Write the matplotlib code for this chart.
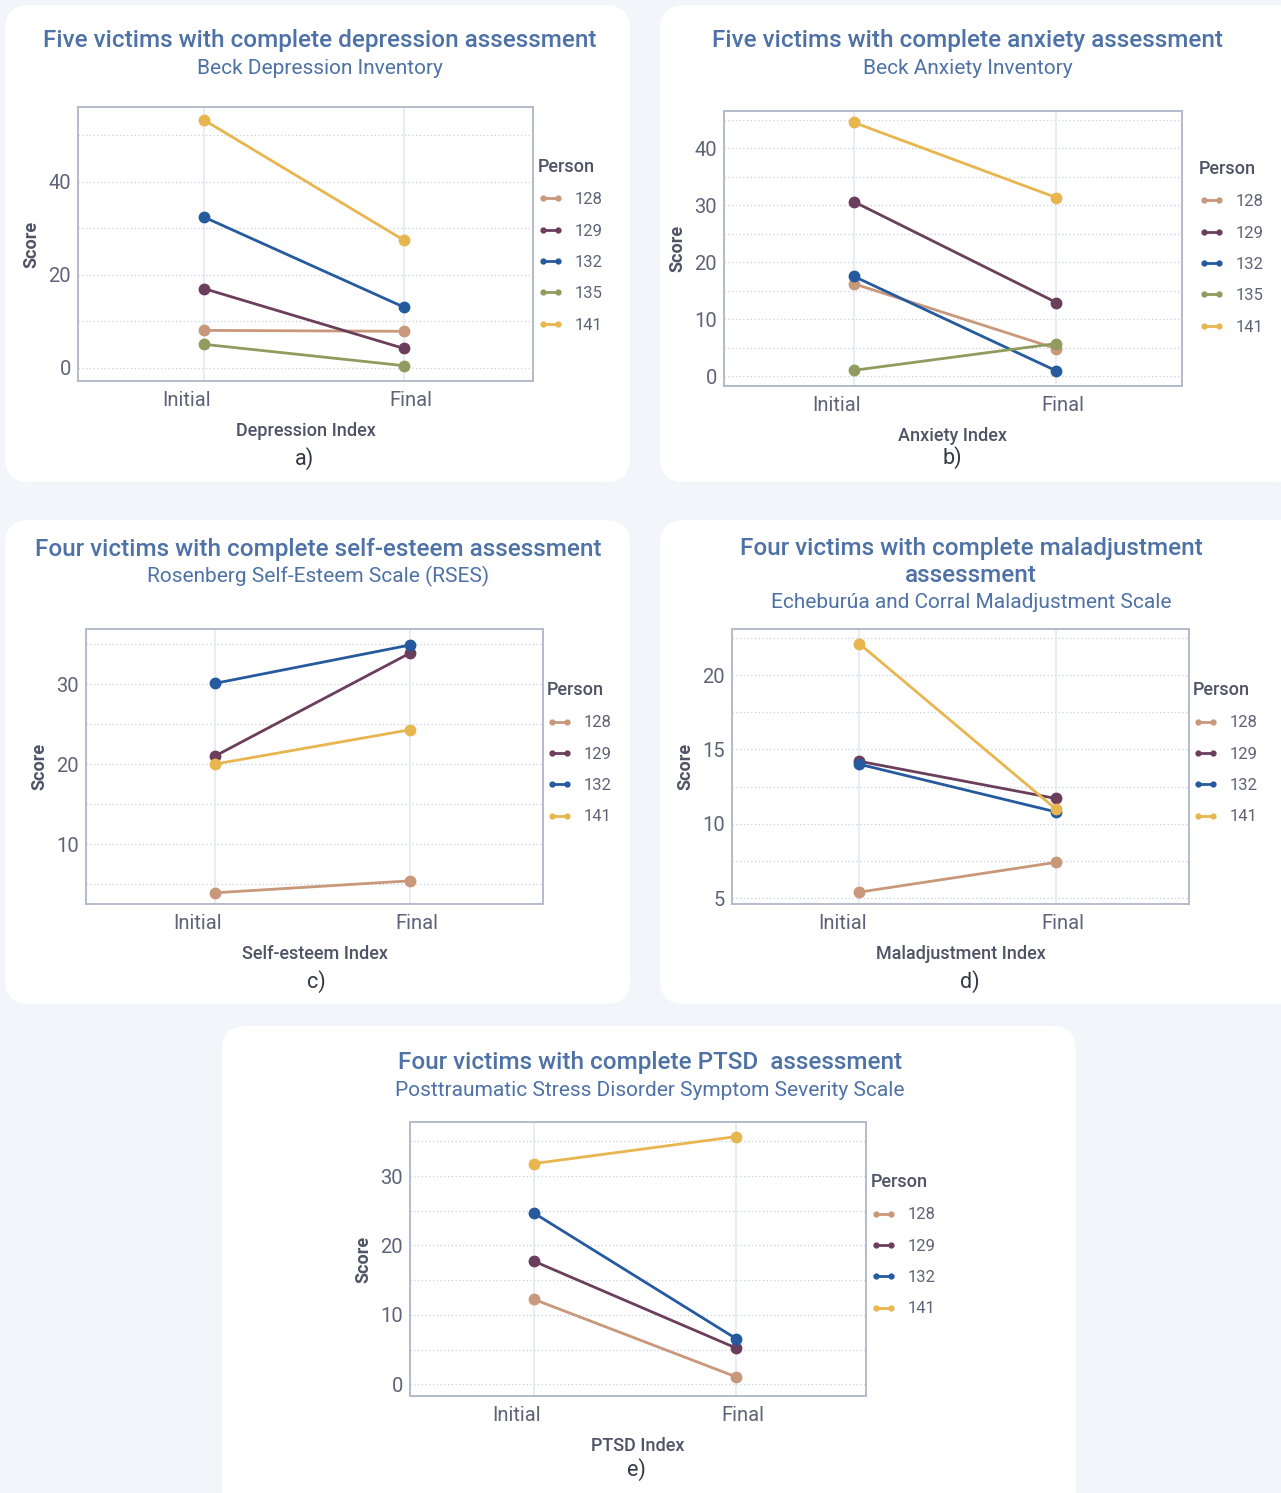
import numpy as np
import matplotlib
matplotlib.use("Agg")
import matplotlib.pyplot as plt
import matplotlib.transforms as mtransforms
from matplotlib.patches import FancyBboxPatch
from matplotlib.lines import Line2D

W, H = 1281, 1493

stages = ["Initial", "Final"]
persons5 = ["128", "129", "132", "135", "141"]
persons4 = ["128", "129", "132", "141"]
person_colors = {"128": "#c9977a", "129": "#6b3e5c", "132": "#255a9e",
                 "135": "#909b5e", "141": "#e8b64f"}

# depression (Beck Depression Inventory)
dep_initial = [8, 17, 32.4, 5, 53.3]
dep_final = [7.8, 4.1, 13, 0.4, 27.4]
# anxiety (Beck Anxiety Inventory)
anx_initial = [16.2, 30.6, 17.5, 1, 44.5]
anx_final = [4.8, 12.9, 0.9, 5.7, 31.3]
# self-esteem (RSES)
est_initial = [3.9, 21, 30.1, 20]
est_final = [5.4, 33.9, 34.9, 24.3]
# maladjustment
mal_initial = [5.4, 14.2, 14.0, 22.1]
mal_final = [7.4, 11.7, 10.8, 11.0]
# PTSD
ptsd_initial = [12.25, 17.75, 24.7, 31.8]
ptsd_final = [1.05, 5.2, 6.55, 35.7]

TITLE_C = "#4e72a6"
GREY = "#4f5366"
TICK_C = "#5f6377"
FONT = ["Roboto", "DejaVu Sans"]
plt.rcParams["font.family"] = FONT

fig = plt.figure(figsize=(W / 100, H / 100), dpi=100)
fig.patch.set_facecolor("#f2f5f9")

bg = fig.add_axes([0, 0, 1, 1])
bg.set_xlim(0, W); bg.set_ylim(H, 0); bg.axis("off")
cards = [(5, 5, 630, 482), (660, 5, 1300, 482), (5, 520, 630, 1004),
         (660, 520, 1300, 1004), (222, 1026, 1076, 1520)]
for x0, y0, x1, y1 in cards:
    bg.add_patch(FancyBboxPatch((x0, y0), x1 - x0, y1 - y0,
                                boxstyle="round,pad=0,rounding_size=24",
                                fc="white", ec="none"))


def fx(x):
    return x / W


def fy(y):
    return 1 - y / H


def panel(box, persons, initial, final, ylim, ticks, grid, xlim,
          title, subtitle, xlabel, letter, tpos, legpos, letpos):
    x0, y0, x1, y1 = box
    ax = fig.add_axes([fx(x0), fy(y1), fx(x1 - x0), (y1 - y0) / H])
    ax.set_facecolor("white")
    for g in grid:
        ax.axhline(g, color="#c9ceda", lw=0.9, ls=(0, (1, 2)), zorder=1)
    for i in range(len(stages)):
        ax.axvline(i, color="#e4e7f2", lw=1.1, zorder=1)
    handles = []
    for p, a, b in zip(persons, initial, final):
        c = person_colors[p]
        ax.plot([0, 1], [a, b], color=c, lw=2.0, marker="o", ms=7.5, zorder=3)
        handles.append(Line2D([0], [0], color=c, lw=2.0, marker="o", ms=3.5))
    ax.set_xlim(*xlim)
    ax.set_ylim(*ylim)
    ax.set_xticks(range(len(stages)), stages)
    ax.set_yticks(ticks)
    ax.tick_params(length=0, labelsize=14.5, colors=TICK_C)
    ax.tick_params(axis="y", pad=5)
    ax.tick_params(axis="x", pad=7)
    shifts = [-17, 7]
    for lab, dx in zip(ax.get_xticklabels(), shifts):
        lab.set_transform(lab.get_transform() +
                          mtransforms.ScaledTranslation(dx / 100, 0, fig.dpi_scale_trans))
    for s in ax.spines.values():
        s.set_color("#b3bbcb"); s.set_linewidth(1.4)
    ax.set_ylabel("Score", fontsize=13, fontweight="bold", color=GREY, labelpad=6)
    ax.set_xlabel(xlabel, fontsize=13, fontweight="medium", color=GREY, labelpad=9)
    leg = ax.legend(handles, persons, title="Person", loc="upper left",
                    bbox_to_anchor=(fx(legpos[0]), fy(legpos[1] + 3)),
                    bbox_transform=fig.transFigure, frameon=False, fontsize=12,
                    numpoints=2, handlelength=1.5, handletextpad=0.7,
                    labelspacing=0.98, alignment="left", borderaxespad=0,
                    borderpad=0)
    leg.get_title().set_fontsize(13)
    leg.get_title().set_fontweight("medium")
    leg.get_title().set_color(GREY)
    for t in leg.get_texts():
        t.set_color(TICK_C)
    tx, ty = tpos
    ty += 2
    for k, line in enumerate(title):
        fig.text(fx(tx), fy(ty + 26 * k), line, ha="center", va="center",
                 fontsize=17.5, fontweight="medium", color=TITLE_C)
    fig.text(fx(tx), fy(ty + 26 * len(title) + 1), subtitle, ha="center",
             va="center", fontsize=15, color=TITLE_C)
    fig.text(fx(letpos[0]), fy(letpos[1]), letter, ha="center", va="center",
             fontsize=15.5, color="#333745")
    return ax


panel((78, 107, 533, 381), persons5, dep_initial, dep_final, (-2.9, 56.1),
      [0, 20, 40], [0, 10, 20, 30, 40, 50], (-0.63, 1.645),
      ["Five victims with complete depression assessment"],
      "Beck Depression Inventory", "Depression Index", "a)",
      (320, 39), (538, 155), (304, 459))
panel((724, 111, 1182, 386), persons5, anx_initial, anx_final, (-1.75, 46.5),
      [0, 10, 20, 30, 40], [0, 5, 10, 15, 20, 25, 30, 35, 40, 45],
      (-0.64, 1.62),
      ["Five victims with complete anxiety assessment"],
      "Beck Anxiety Inventory", "Anxiety Index", "b)",
      (968, 39), (1199, 157), (952, 458))
panel((86, 629, 543, 904), persons4, est_initial, est_final, (2.5, 36.9),
      [10, 20, 30], [5, 10, 15, 20, 25, 30, 35], (-0.66, 1.68),
      ["Four victims with complete self-esteem assessment"],
      "Rosenberg Self-Esteem Scale (RSES)", "Self-esteem Index", "c)",
      (318, 547), (547, 678), (316, 982))
panel((732, 629, 1189, 904), persons4, mal_initial, mal_final, (4.6, 23.1),
      [5, 10, 15, 20], [5, 7.5, 10, 12.5, 15, 17.5, 20, 22.5], (-0.65, 1.68),
      ["Four victims with complete maladjustment", "assessment"],
      "Echeburúa and Corral Maladjustment Scale", "Maladjustment Index", "d)",
      (971, 547), (1193, 678), (970, 982))
panel((410, 1122, 866, 1396), persons4, ptsd_initial, ptsd_final, (-1.7, 37.8),
      [0, 10, 20, 30], [0, 5, 10, 15, 20, 25, 30, 35], (-0.61, 1.64),
      ["Four victims with complete PTSD  assessment"],
      "Posttraumatic Stress Disorder Symptom Severity Scale", "PTSD Index", "e)",
      (650, 1061), (871, 1170), (636, 1470))

fig.savefig("out.png", dpi=100, facecolor=fig.get_facecolor())
